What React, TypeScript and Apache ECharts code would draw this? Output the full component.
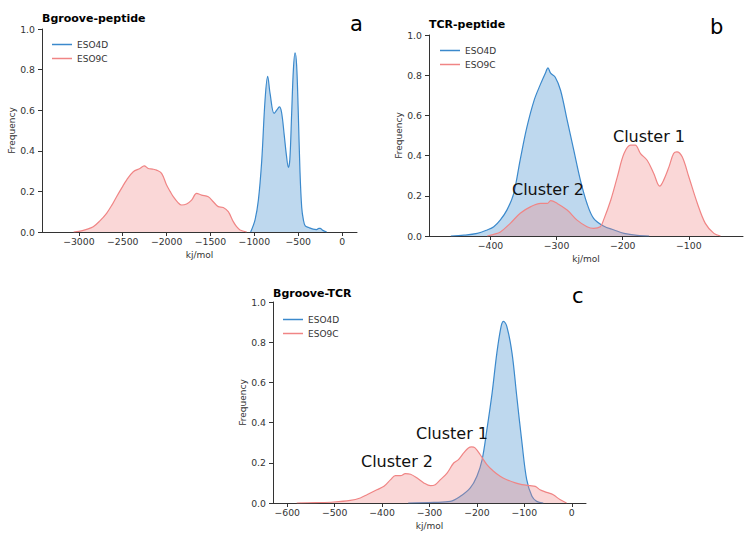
import React, { useEffect, useRef } from "react";
import * as echarts from "echarts";

// Panel a: Bgroove-peptide
const aBlueX = [-1042, -992, -954, -916, -878, -848, -820, -775, -745, -715, -690, -660, -635, -612, -595, -575, -555, -536, -518, -500, -480, -460, -441, -420, -380, -330, -290, -265, -250, -220, -175];
const aBlueY = [0, 0.06, 0.157, 0.35, 0.65, 0.767, 0.68, 0.584, 0.6, 0.616, 0.59, 0.48, 0.38, 0.318, 0.36, 0.58, 0.8, 0.882, 0.82, 0.6, 0.3, 0.12, 0.06, 0.03, 0.022, 0.014, 0.012, 0.018, 0.018, 0.008, 0];
const aRedX = [-3060, -3000, -2920, -2836, -2760, -2684, -2620, -2570, -2500, -2456, -2380, -2304, -2255, -2209, -2160, -2114, -2057, -2000, -1960, -1924, -1870, -1829, -1772, -1715, -1658, -1601, -1525, -1468, -1411, -1354, -1297, -1240, -1200, -1163, -1087];
const aRedY = [0, 0.003, 0.012, 0.026, 0.055, 0.092, 0.135, 0.174, 0.225, 0.256, 0.297, 0.313, 0.326, 0.313, 0.31, 0.305, 0.289, 0.231, 0.2, 0.174, 0.145, 0.133, 0.138, 0.157, 0.19, 0.182, 0.174, 0.149, 0.125, 0.121, 0.1, 0.051, 0.025, 0.01, 0];

// Panel b: TCR-peptide
const bBlueX = [-460, -440, -420, -405, -395, -385, -375, -365, -355, -345, -334, -324, -317, -313, -309, -302, -294, -284, -274, -264, -254, -244, -229, -213, -198, -178, -160];
const bBlueY = [0, 0.004, 0.013, 0.03, 0.046, 0.08, 0.13, 0.21, 0.38, 0.54, 0.675, 0.758, 0.81, 0.836, 0.81, 0.79, 0.725, 0.576, 0.427, 0.278, 0.162, 0.088, 0.05, 0.03, 0.013, 0.003, 0];
const bRedX = [-405, -395, -385, -370, -355, -339, -324, -314, -309, -299, -284, -269, -254, -244, -234, -229, -218, -208, -198, -188, -181, -173, -163, -153, -144, -138, -130, -123, -118, -110, -100, -87, -75, -62, -52];
const bRedY = [0, 0.008, 0.02, 0.063, 0.113, 0.146, 0.162, 0.162, 0.176, 0.162, 0.129, 0.079, 0.046, 0.038, 0.046, 0.079, 0.179, 0.295, 0.41, 0.452, 0.452, 0.41, 0.377, 0.311, 0.248, 0.278, 0.344, 0.41, 0.419, 0.394, 0.295, 0.162, 0.063, 0.013, 0];

// Panel c: Bgroove-TCR
const cBlueX = [-345, -291, -256, -235, -214, -200, -189, -179, -168, -158, -149, -144, -137, -126, -116, -105, -95, -84, -74, -60];
const cBlueY = [0, 0.003, 0.008, 0.033, 0.075, 0.133, 0.216, 0.365, 0.547, 0.746, 0.879, 0.904, 0.879, 0.746, 0.531, 0.299, 0.116, 0.033, 0.008, 0];
const cRedX = [-580, -540, -502, -467, -446, -432, -411, -396, -382, -372, -361, -351, -340, -326, -312, -298, -288, -277, -263, -249, -239, -228, -218, -211, -204, -193, -179, -165, -151, -137, -119, -105, -88, -77, -67, -53, -39, -25, -11];
const cRedY = [0, 0.002, 0.005, 0.013, 0.025, 0.041, 0.066, 0.083, 0.116, 0.136, 0.136, 0.146, 0.143, 0.124, 0.1, 0.086, 0.091, 0.116, 0.149, 0.199, 0.216, 0.249, 0.274, 0.279, 0.274, 0.24, 0.191, 0.158, 0.133, 0.116, 0.1, 0.091, 0.086, 0.083, 0.066, 0.053, 0.041, 0.017, 0];

const aTicks = [-3000, -2500, -2000, -1500, -1000, -500, 0];
const bTicks = [-400, -300, -200, -100];
const cTicks = [-600, -500, -400, -300, -200, -100, 0];
const seriesNames = ["ESO4D", "ESO9C"];
const panelTitles = ["Bgroove-peptide", "TCR-peptide", "Bgroove-TCR"];
const panelLetters = ["a", "b", "c"];

const BLUE = "#3b89cc";
const RED = "#f08585";
const FONT = "DejaVu Sans";
const AX = "#333333";

const zip = (xs: number[], ys: number[]) => xs.map((x, i) => [x, ys[i]]);

export default function App() {
  const ref = useRef<HTMLDivElement>(null);
  useEffect(() => {
    if (!ref.current) return;
    const chart = echarts.init(ref.current, null, { renderer: "svg" });

    const grids = [
      { left: 42, top: 29, width: 315, height: 203 },
      { left: 429, top: 35, width: 314, height: 201 },
      { left: 273, top: 302, width: 313, height: 201 },
    ];
    const ranges = [
      [-3420, 170],
      [-493, -18],
      [-630, 30],
    ];
    const ticks = [aTicks, bTicks, cTicks];

    const xAxes = grids.map((_, i) => ({
      type: "value",
      gridIndex: i,
      min: ranges[i][0],
      max: ranges[i][1],
      name: "kj/mol",
      nameLocation: "middle",
      nameGap: 18,
      nameTextStyle: { fontFamily: FONT, fontSize: 9, color: AX },
      splitLine: { show: false },
      axisLine: { onZero: false, lineStyle: { color: AX, width: 1 } },
      axisTick: { show: true, length: 4, lineStyle: { color: AX }, customValues: ticks[i] },
      axisLabel: {
        color: AX,
        fontFamily: FONT,
        fontSize: 9.3,
        margin: 5,
        customValues: ticks[i],
        formatter: (v: number) => (v < 0 ? "\u2212" + Math.abs(v) : String(v)),
      },
    }));
    const yAxes = grids.map((_, i) => ({
      type: "value",
      gridIndex: i,
      min: 0,
      max: 1,
      interval: 0.2,
      name: "Frequency",
      nameLocation: "middle",
      nameGap: 25,
      nameTextStyle: { fontFamily: FONT, fontSize: 9, color: AX },
      splitLine: { show: false },
      axisLine: { show: true, onZero: false, lineStyle: { color: AX, width: 1 } },
      axisTick: { show: true, length: 4, lineStyle: { color: AX } },
      axisLabel: {
        color: AX,
        fontFamily: FONT,
        fontSize: 9.3,
        margin: 7,
        formatter: (v: number) => v.toFixed(1),
      },
    }));

    const mk = (name: string, color: string, i: number, xs: number[], ys: number[], z: number) => ({
      type: "line",
      name,
      xAxisIndex: i,
      yAxisIndex: i,
      data: zip(xs, ys),
      smooth: 0.35,
      symbol: "none",
      z,
      lineStyle: { color, width: 1.2 },
      itemStyle: { color },
      areaStyle: { color, opacity: 0.33 },
    });

    const series = [
      mk(seriesNames[0], BLUE, 0, aBlueX, aBlueY, 2),
      mk(seriesNames[1], RED, 0, aRedX, aRedY, 3),
      mk(seriesNames[0], BLUE, 1, bBlueX, bBlueY, 2),
      mk(seriesNames[1], RED, 1, bRedX, bRedY, 3),
      mk(seriesNames[0], BLUE, 2, cBlueX, cBlueY, 2),
      mk(seriesNames[1], RED, 2, cRedX, cRedY, 3),
    ];

    const legendPos = [
      { left: 52, top: 39 },
      { left: 440, top: 45 },
      { left: 283, top: 314 },
    ];
    const legends = legendPos.map((p) => ({
      ...p,
      orient: "vertical",
      data: seriesNames,
      icon: "rect",
      itemWidth: 20,
      itemHeight: 1.5,
      itemGap: 3,
      padding: 0,
      textStyle: { fontFamily: FONT, fontSize: 9, color: AX, lineHeight: 11 },
      selectedMode: false,
    }));

    const titlePos = [
      { left: 42, top: 13 },
      { left: 429, top: 19 },
      { left: 273, top: 288 },
    ];
    const letterPos = [
      { left: 350, top: 13 },
      { left: 710, top: 16 },
      { left: 572, top: 285 },
    ];
    const titles = [
      ...titlePos.map((p, i) => ({
        ...p,
        text: panelTitles[i],
        padding: 0,
        textStyle: { fontFamily: FONT, fontSize: 11, fontWeight: "bold", color: "#000" },
      })),
      ...letterPos.map((p, i) => ({
        ...p,
        text: panelLetters[i],
        padding: 0,
        textStyle: { fontFamily: FONT, fontSize: 21, fontWeight: "normal", color: "#000" },
      })),
    ];

    const clusterText = (text: string, x: number, y: number) => ({
      type: "text",
      x,
      y,
      style: {
        text,
        fill: "#111",
        font: `16px "${FONT}"`,
        align: "center",
        verticalAlign: "middle",
      },
      z: 10,
    });

    chart.setOption({
      animation: false,
      backgroundColor: "#ffffff",
      title: titles,
      legend: legends,
      grid: grids,
      xAxis: xAxes,
      yAxis: yAxes,
      series,
      graphic: [
        clusterText("Cluster 1", 649, 136),
        clusterText("Cluster 2", 548, 189),
        clusterText("Cluster 1", 452, 433),
        clusterText("Cluster 2", 397, 461),
      ],
    });
    return () => chart.dispose();
  }, []);
  return <div ref={ref} style={{ width: 754, height: 538, position: "absolute", left: 0, top: 0 }} />;
}
